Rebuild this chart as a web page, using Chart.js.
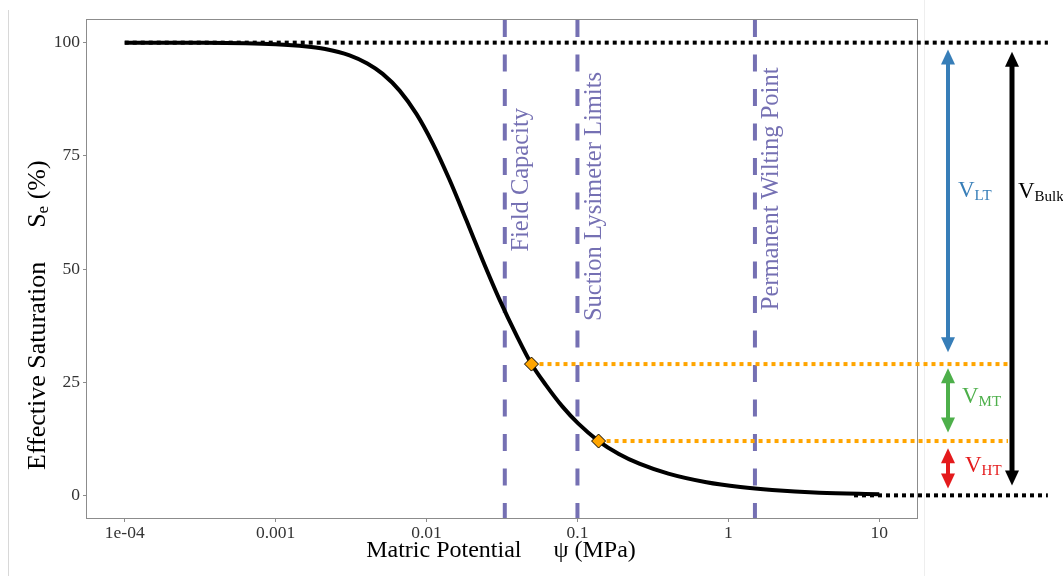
<!DOCTYPE html>
<html>
<head>
<meta charset="utf-8">
<script src="https://cdn.jsdelivr.net/npm/chart.js@4.4.0/dist/chart.umd.min.js"></script>
<style>
  html, body { margin: 0; padding: 0; background: #fff; }
</style>
</head>
<body>
<canvas id="myChart" width="1063" height="576"></canvas>
<script>

// retention curve
var psi = [1e-4, 3e-4, 0.001, 0.00144, 0.00213, 0.00309, 0.00405, 0.00512, 0.00663, 0.00859, 0.011, 0.0142, 0.0184, 0.0235, 0.0304, 0.0394, 0.0496, 0.062, 0.0796, 0.101, 0.138, 0.188, 0.257, 0.4, 0.715, 1.2, 1.95, 4, 10];
var se  = [100, 99.96, 99.65, 99.3, 98.6, 97.2, 95.4, 93.1, 89.4, 84.2, 77.7, 69.7, 60.7, 52.0, 43.3, 35.4, 29.0, 24.3, 19.6, 15.9, 12.0, 9.15, 7.0, 4.8, 2.9, 1.85, 1.2, 0.6, 0.25];

// reference suctions (MPa)
var refPsi = [0.033, 0.1, 1.5];
var refLabels = ['Field Capacity', 'Suction Lysimeter Limits', 'Permanent Wilting Point'];

// points where the tension bands split
var markPsi = [0.0496, 0.138];
var markSe = [29, 12];

// volume bands (Se %)
var bandNames = ['LT', 'MT', 'HT', 'Bulk'];
var bandTop = [98.5, 28.1, 10.4, 98];
var bandBottom = [31.6, 13.9, 1.5, 2.2];

var xTickVals = [1e-4, 0.001, 0.01, 0.1, 1, 10];
var xTickLabels = ['1e-04', '0.001', '0.01', '0.1', '1', '10'];
var yTickVals = [0, 25, 50, 75, 100];

// guide lines run past the panel into the right margin
var guideFarEnd = 131;
var guideBandEnd = 71.3;
var guideZeroStart = 6.8;

var SERIF = '"Liberation Serif", "Times New Roman", serif';
var PURPLE = '#7570B3';
var ORANGE = '#FFA500';
var bandColors = ['#377EB8', '#4DAF4A', '#E41A1C', '#000000'];

var curve = psi.map(function (p, i) { return { x: p, y: se[i] }; });

var datasets = [];
datasets.push({
    data: markPsi.map(function (p, i) { return { x: p, y: markSe[i] }; }),
    showLine: false,
    pointStyle: 'rectRot',
    pointRadius: 7,
    pointBackgroundColor: ORANGE,
    pointBorderColor: '#000',
    pointBorderWidth: 1,
    order: 0
});
datasets.push({
    data: curve,
    borderColor: '#000',
    borderWidth: 4,
    pointRadius: 0,
    cubicInterpolationMode: 'monotone',
    order: 1
});
// black dotted guides at 100 and 0
datasets.push({
    data: [{ x: psi[0], y: 100 }, { x: guideFarEnd, y: 100 }],
    borderColor: '#000', borderWidth: 4, borderDash: [4, 4], pointRadius: 0, clip: false, order: 2
});
datasets.push({
    data: [{ x: guideZeroStart, y: 0 }, { x: guideFarEnd, y: 0 }],
    borderColor: '#000', borderWidth: 4, borderDash: [4, 4], pointRadius: 0, clip: false, order: 2
});
// orange dotted guides from the markers
markPsi.forEach(function (p, i) {
    datasets.push({
        data: [{ x: p, y: markSe[i] }, { x: guideBandEnd, y: markSe[i] }],
        borderColor: ORANGE, borderWidth: 4, borderDash: [4, 4], pointRadius: 0, clip: false, order: 2
    });
});
// purple dashed reference lines
refPsi.forEach(function (p) {
    datasets.push({
        data: [{ x: p, y: 105 }, { x: p, y: -5 }],
        borderColor: PURPLE, borderWidth: 4, borderDash: [17, 17.5], pointRadius: 0, order: 3
    });
});

function drawArrow(c, x, yTop, yBot, color, w) {
    var hl = 15, hw = 7;
    c.strokeStyle = color;
    c.fillStyle = color;
    c.lineWidth = w;
    c.beginPath();
    c.moveTo(x, yTop + hl - 1);
    c.lineTo(x, yBot - hl + 1);
    c.stroke();
    c.beginPath();
    c.moveTo(x, yTop); c.lineTo(x - hw, yTop + hl); c.lineTo(x + hw, yTop + hl); c.closePath();
    c.fill();
    c.beginPath();
    c.moveTo(x, yBot); c.lineTo(x - hw, yBot - hl); c.lineTo(x + hw, yBot - hl); c.closePath();
    c.fill();
}

function drawSub(c, x, y, main, sub, color) {
    c.fillStyle = color;
    c.textAlign = 'left';
    c.textBaseline = 'alphabetic';
    c.font = '23px ' + SERIF;
    c.fillText(main, x, y);
    var w = c.measureText(main).width;
    c.font = '15px ' + SERIF;
    c.fillText(sub, x + w, y + 3);
}

var decor = {
    id: 'decor',
    beforeDraw: function (chart) {
        var c = chart.ctx;
        c.save();
        c.fillStyle = '#fff';
        c.fillRect(0, 0, chart.width, chart.height);
        c.lineWidth = 1;
        c.strokeStyle = '#d8d8d8';
        c.beginPath(); c.moveTo(8.5, 10); c.lineTo(8.5, chart.height); c.stroke();
        c.strokeStyle = '#eeeeee';
        c.beginPath(); c.moveTo(924.5, 0); c.lineTo(924.5, chart.height); c.stroke();
        c.restore();
    },
    beforeDatasetsDraw: function (chart) {
        var a = chart.chartArea, c = chart.ctx;
        c.save();
        c.strokeStyle = '#8c8c8c';
        c.lineWidth = 1;
        c.strokeRect(Math.round(a.left) - 0.5, Math.round(a.top) - 0.5, Math.round(a.right - a.left) + 1, Math.round(a.bottom - a.top) + 1);
        c.restore();
    },
    afterDraw: function (chart) {
        var a = chart.chartArea, c = chart.ctx;
        var xs = chart.scales.x, ys = chart.scales.y;
        c.save();

        // rotated labels on the reference lines
        var labelSe = [69.7, 66, 67.7];
        c.fillStyle = PURPLE;
        c.font = '24.5px ' + SERIF;
        c.textAlign = 'center';
        c.textBaseline = 'middle';
        refPsi.forEach(function (p, i) {
            c.save();
            c.translate(xs.getPixelForValue(p) + 17, ys.getPixelForValue(labelSe[i]));
            c.rotate(-Math.PI / 2);
            c.fillText(refLabels[i], 0, 0);
            c.restore();
        });

        // band arrows in the right margin
        var arrowX = [a.right + 31, a.right + 31, a.right + 31, a.right + 95];
        var labelX = [a.right + 41, a.right + 45, a.right + 48, a.right + 101];
        var labelSeY = [65.8, 20.3, 5.1, 65.6];
        bandNames.forEach(function (n, i) {
            drawArrow(c, arrowX[i], ys.getPixelForValue(bandTop[i]), ys.getPixelForValue(bandBottom[i]),
                bandColors[i], i === 3 ? 5 : 4);
            drawSub(c, labelX[i], ys.getPixelForValue(labelSeY[i]), 'V', n, bandColors[i]);
        });

        // x axis title
        c.fillStyle = '#000';
        c.textBaseline = 'middle';
        c.textAlign = 'left';
        c.font = '24px ' + SERIF;
        var t1 = 'Matric Potential', t2 = '\u03C8 (MPa)';
        var w1 = c.measureText(t1).width, w2 = c.measureText(t2).width, gap = 32;
        var x0 = 501 - (w1 + gap + w2) / 2;
        c.fillText(t1, x0, 551);
        c.fillText(t2, x0 + w1 + gap, 551);

        // y axis title with subscript
        c.save();
        c.translate(38, 470);
        c.rotate(-Math.PI / 2);
        c.textAlign = 'left';
        c.textBaseline = 'middle';
        c.font = '26px ' + SERIF;
        var s1 = 'Effective Saturation';
        c.fillText(s1, 0, 0);
        var px = c.measureText(s1).width + 34;
        c.fillText('S', px, 0);
        px += c.measureText('S').width;
        c.font = '17px ' + SERIF;
        c.fillText('e', px, 6);
        px += c.measureText('e').width;
        c.font = '26px ' + SERIF;
        c.fillText(' (%)', px, 0);
        c.restore();

        c.restore();
    }
};

var ctx = document.getElementById('myChart');

var graphData = {
    type: 'line',
    data: { datasets: datasets },
    options: {
        responsive: false,
        animation: false,
        devicePixelRatio: 1,
        events: [],
        layout: { padding: { top: 20, right: 146, left: 0, bottom: 0 } },
        plugins: { legend: { display: false }, tooltip: { enabled: false } },
        scales: {
            x: {
                type: 'logarithmic',
                min: Math.pow(10, -4.25),
                max: Math.pow(10, 1.25),
                afterBuildTicks: function (scale) {
                    scale.ticks = xTickVals.map(function (v) { return { value: v }; });
                },
                afterFit: function (scale) { scale.height = 58; },
                grid: { drawOnChartArea: false, tickLength: 4, color: '#8c8c8c' },
                border: { display: false },
                ticks: {
                    autoSkip: false,
                    maxRotation: 0,
                    padding: 1,
                    color: '#333',
                    font: { family: SERIF, size: 17.5 },
                    callback: function (v) {
                        var i = xTickVals.indexOf(v);
                        return i >= 0 ? xTickLabels[i] : '';
                    }
                }
            },
            y: {
                type: 'linear',
                min: -5,
                max: 105,
                afterBuildTicks: function (scale) {
                    scale.ticks = yTickVals.map(function (v) { return { value: v }; });
                },
                afterFit: function (scale) { scale.width = 87; },
                grid: { drawOnChartArea: false, tickLength: 4, color: '#8c8c8c' },
                border: { display: false },
                ticks: {
                    padding: 3,
                    color: '#333',
                    font: { family: SERIF, size: 17.5 }
                }
            }
        }
    },
    plugins: [decor]
};

var myChart = new Chart(ctx, graphData);
</script>
</body>
</html>
